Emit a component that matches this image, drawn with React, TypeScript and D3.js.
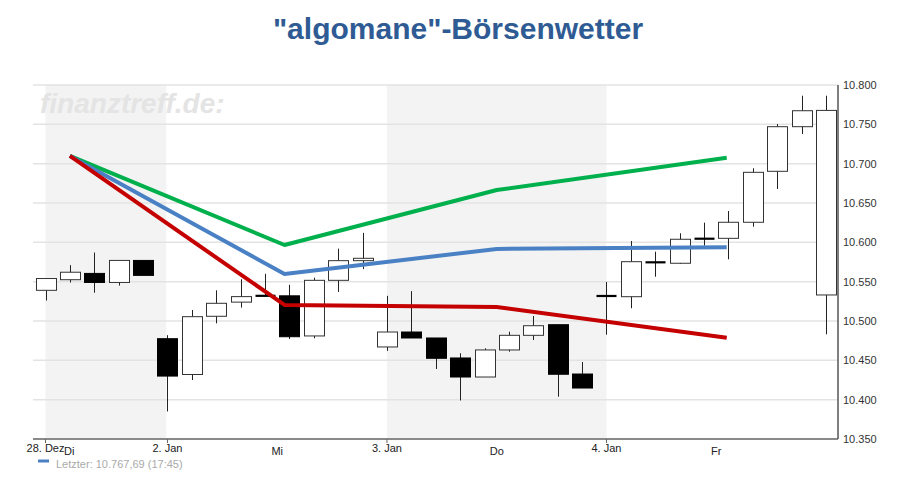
import { useEffect } from 'react';
import * as d3 from 'd3';

// hourly candles, index 0..32
const opens = [10.539, 10.5525, 10.5605, 10.549, 10.577, 10.4775, 10.432, 10.506, 10.524, 10.5315, 10.532, 10.481, 10.5517, 10.5767, 10.467, 10.486, 10.4784, 10.453, 10.4288, 10.4632, 10.4818, 10.4953, 10.4326, 10.532, 10.5309, 10.5748, 10.5734, 10.6048, 10.6051, 10.6255, 10.6903, 10.747, 10.5331];
const highs = [10.554, 10.571, 10.587, 10.577, 10.577, 10.482, 10.514, 10.539, 10.553, 10.560, 10.546, 10.555, 10.592, 10.612, 10.532, 10.538, 10.4784, 10.459, 10.4653, 10.4864, 10.5064, 10.4953, 10.4479, 10.5496, 10.6017, 10.5881, 10.6115, 10.625, 10.6398, 10.6941, 10.7504, 10.7864, 10.7864];
const lows = [10.526, 10.549, 10.536, 10.545, 10.558, 10.385, 10.425, 10.497, 10.517, 10.531, 10.477, 10.478, 10.537, 10.566, 10.462, 10.4784, 10.439, 10.399, 10.4288, 10.461, 10.4759, 10.4038, 10.4148, 10.4826, 10.5162, 10.5563, 10.5725, 10.5957, 10.5784, 10.6199, 10.6678, 10.7377, 10.4831];
const closes = [10.554, 10.562, 10.549, 10.577, 10.558, 10.430, 10.5055, 10.5225, 10.531, 10.5325, 10.480, 10.5517, 10.5767, 10.5797, 10.486, 10.4784, 10.4526, 10.4288, 10.4632, 10.4818, 10.494, 10.4323, 10.4148, 10.5316, 10.5754, 10.5744, 10.6039, 10.6044, 10.6255, 10.689, 10.747, 10.7673, 10.7677];

// forecast lines (x in candle index units)
const forecastX = [1, 9.8, 18.5, 27.93];
const greenLine = [10.7098, 10.5966, 10.6665, 10.7076];
const blueLine = [10.7098, 10.5598, 10.5916, 10.5937];
const redLine = [10.7098, 10.5204, 10.5178, 10.4788];

const yTicks = [10.35, 10.4, 10.45, 10.5, 10.55, 10.6, 10.65, 10.7, 10.75, 10.8];
const dateTicks = [
  { label: '28. Dez', at: 0 },
  { label: '2. Jan', at: 5 },
  { label: '3. Jan', at: 14 },
  { label: '4. Jan', at: 23 },
];
const dayLabels = [
  { label: 'Mi', at: 9.5 },
  { label: 'Do', at: 18.5 },
  { label: 'Fr', at: 27.5 },
];
const bands: [number, number][] = [[0, 4.95], [14, 23]];

const W = 922, H = 487;
const plotLeft = 33, plotRight = 838, plotTop = 85, plotBottom = 439;
const font = '"Liberation Sans", Arial, sans-serif';

export default function App() {
  useEffect(() => {
    document.body.style.margin = '0';
  }, []);

  const x = d3.scaleLinear().domain([0, 32]).range([45.5, 826]);
  const y = d3.scaleLinear().domain([10.35, 10.8]).range([plotBottom, plotTop]);
  const bodyW = 20;

  const line = d3.line<[number, number]>()
    .x(d => x(d[0]))
    .y(d => y(d[1]));
  const pts = (vals: number[]) => vals.map((v, i) => [forecastX[i], v] as [number, number]);

  return (
    <svg width={W} height={H} style={{ display: 'block', fontFamily: font }}>
      <rect width={W} height={H} fill="#fff" />
      <text x={458} y={39} textAnchor="middle" fontSize={30} fontWeight="bold" fill="#2f5b94">
        "algomane"-Börsenwetter
      </text>

      {bands.map(([a, b], i) => (
        <rect key={i} x={x(a)} y={plotTop} width={x(b) - x(a)} height={plotBottom - plotTop} fill="#f3f3f3" />
      ))}

      <text x={40} y={113} fontSize={28} fontWeight="bold" fontStyle="italic" fill="#e4e4e4">
        finanztreff.de:
      </text>

      {yTicks.map(t => (
        <g key={t}>
          {t > 10.35 && (
            <line x1={plotLeft} x2={plotRight} y1={y(t)} y2={y(t)} stroke="#e3e3e3" strokeWidth={1.5} />
          )}
          <text x={843} y={y(t) + 4} fontSize={11} fill="#333">
            {d3.format('.3f')(t)}
          </text>
        </g>
      ))}

      {opens.map((o, i) => {
        const c = closes[i];
        const cx = Math.round(x(i)) + 0.5;
        const top = y(Math.max(o, c));
        const bot = y(Math.min(o, c));
        const down = c < o;
        const doji = bot - top < 1.8;
        return (
          <g key={i}>
            <line x1={cx} x2={cx} y1={y(highs[i])} y2={y(lows[i])} stroke="#222" strokeWidth={1} />
            {doji ? (
              <line x1={cx - bodyW / 2} x2={cx + bodyW / 2} y1={(top + bot) / 2} y2={(top + bot) / 2} stroke="#000" strokeWidth={2.2} />
            ) : (
              <rect x={cx - bodyW / 2} y={top} width={bodyW} height={bot - top}
                fill={down ? '#000' : '#fff'} stroke={down ? '#000' : '#333'} strokeWidth={1} />
            )}
          </g>
        );
      })}

      <path d={line(pts(greenLine)) || undefined} fill="none" stroke="#00b04c" strokeWidth={4} strokeLinejoin="round" />
      <path d={line(pts(blueLine)) || undefined} fill="none" stroke="#4a80c4" strokeWidth={4} strokeLinejoin="round" />
      <path d={line(pts(redLine)) || undefined} fill="none" stroke="#c40000" strokeWidth={4} strokeLinejoin="round" />

      <line x1={plotLeft} x2={plotRight} y1={plotBottom} y2={plotBottom} stroke="#8a8a8a" strokeWidth={2} />
      <line x1={plotRight} x2={plotRight} y1={plotTop} y2={plotBottom} stroke="#555" strokeWidth={1.5} />

      {dateTicks.map(t => (
        <g key={t.label}>
          <line x1={x(t.at)} x2={x(t.at)} y1={plotBottom} y2={plotBottom + 4} stroke="#666" />
          <text x={x(t.at)} y={452} textAnchor="middle" fontSize={11} fill="#222">{t.label}</text>
        </g>
      ))}
      <text x={64} y={455} fontSize={11} fill="#222">Di</text>
      {dayLabels.map(t => (
        <text key={t.label} x={x(t.at)} y={455} textAnchor="middle" fontSize={11} fill="#222">{t.label}</text>
      ))}

      <line x1={38} x2={49} y1={461} y2={461} stroke="#4a80c4" strokeWidth={3} />
      <text x={56} y={468} fontSize={11} fill="#aaa">Letzter: 10.767,69 (17:45)</text>
    </svg>
  );
}
